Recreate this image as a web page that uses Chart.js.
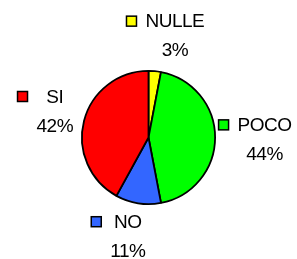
<!DOCTYPE html>
<html>
<head>
<meta charset="utf-8">
<script src="https://cdn.jsdelivr.net/npm/chart.js@4"></script>
<style>
  html,body{margin:0;padding:0;background:#fff;}
  #wrap{width:297px;height:259px;}
</style>
</head>
<body>
<div id="wrap"><canvas id="pie" width="297" height="259"></canvas></div>
<script>
const categories = ['NULLE', 'POCO', 'NO', 'SI'];
const values = [3, 44, 11, 42];
const colors = ['#ffff00', '#00ff00', '#3366ff', '#ff0000'];

// labels sit outside each slice, key box to the left, percent under the name
const outsideLabels = {
  id: 'outsideLabels',
  afterDatasetsDraw(chart){
    const ctx = chart.ctx;
    const meta = chart.getDatasetMeta(0);
    const total = values.reduce((a,b)=>a+b,0);
    const nudge = [4, 1, 8, 0]; // degrees, like excel's best fit
    const push = [1.55, 1.6, 1.55, 1.6];
    ctx.save();
    ctx.font = '19px "Liberation Sans", Arial, sans-serif';
    ctx.letterSpacing = '-0.5px';
    ctx.textBaseline = 'middle';
    ctx.textAlign = 'center';
    meta.data.forEach((arc,i)=>{
      const {x, y, startAngle, endAngle, outerRadius} = arc.getProps(['x','y','startAngle','endAngle','outerRadius'], true);
      const mid = (startAngle+endAngle)/2 + nudge[i]*Math.PI/180;
      const d = outerRadius*push[i];
      const cx = x + Math.cos(mid)*d;
      const cy = y + Math.sin(mid)*d;
      const name = categories[i];
      const pct = Math.round(values[i]/total*100) + '%';
      const w = Math.max(ctx.measureText(name).width, ctx.measureText(pct).width);
      const key = 10, gap = 9;
      const left = cx - (key+gap+w)/2;
      const tx = left + key + gap + w/2;
      const y1 = cy - 14.5, y2 = cy + 14.5;
      ctx.fillStyle = colors[i];
      ctx.fillRect(left, y1-5, key, key);
      ctx.lineWidth = 1.5;
      ctx.strokeStyle = '#000';
      ctx.strokeRect(left, y1-5, key, key);
      ctx.fillStyle = '#000';
      ctx.fillText(name, tx, y1+1);
      ctx.fillText(pct, tx, y2+1);
    });
    ctx.restore();
  }
};

new Chart(document.getElementById('pie'), {
  type: 'pie',
  data: {
    labels: categories,
    datasets: [{
      data: values,
      backgroundColor: colors,
      borderColor: '#000',
      borderWidth: 1.8
    }]
  },
  options: {
    responsive: false,
    animation: false,
    layout: { padding: { left: 81, right: 81, top: 70, bottom: 54 } },
    plugins: { legend: { display: false }, tooltip: { enabled: false } }
  },
  plugins: [outsideLabels]
});
</script>
</body>
</html>
